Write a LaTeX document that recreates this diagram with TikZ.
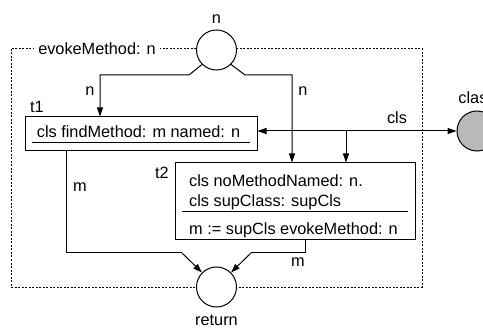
\documentclass[tikz,border=0pt]{standalone}
\usepackage{fontspec}
\setmainfont{Liberation Sans}
\usetikzlibrary{arrows.meta}
\begin{document}
\begin{tikzpicture}[x=1pt,y=-1pt,
  every node/.style={font=\fontsize{16.3}{19}\selectfont, inner sep=0pt},
  place/.style={draw, circle, minimum size=40pt, line width=1pt, fill=white},
  box/.style={draw, rectangle, line width=1pt, fill=white},
  arc/.style={line width=1pt, -{Triangle[length=9pt,width=6pt]}},
  plain/.style={line width=1pt},
  frame/.style={line width=1pt, dash pattern=on 2pt off 1.5pt}]
\useasboundingbox (0,0) rectangle (483,329);
% frame
\draw[frame] (11,49) rectangle (422,287);
\node[fill=white, inner xsep=4pt, inner ysep=2pt] (lbl) at (97,49) {evokeMethod: n};
% places
\node[place] (pin) at (216.5,50) {};
\node (pinl) at (216.5,19) {n};
\node[place] (ret) at (216.5,287) {};
\node (retl) at (216.5,320.5) {return};
\node[place, fill=gray!55] (cls) at (477,131) {};
\node[anchor=base] (clsl) at (477,104) {class};
% transitions
\node[box, minimum width=232pt, minimum height=34pt] (t1) at (141,134) {};
\node (t1txt) at (138.5,132) {cls findMethod: m named: n};
\draw[plain] (32,143) -- (250,143);
\node (t1l) at (37,107) {t1};
\node[box, minimum width=240pt, minimum height=77pt] (t2) at (295,201.5) {};
\node[anchor=base west] (t2a) at (189,186) {cls noMethodNamed: n.};
\node[anchor=base west] (t2b) at (189,207) {cls supClass: supCls};
\draw[plain] (182,212) -- (408,212);
\node[anchor=base west] (t2c) at (189,234) {m := supCls evokeMethod: n};
\node (t2l) at (162,173) {t2};
% coordinates
\coordinate (a1) at (189,75);
\coordinate (a2) at (245,75);
\coordinate (j) at (346,131);
\coordinate (b1) at (66,253);
\coordinate (b2) at (182,253);
\coordinate (c1) at (305,253);
\coordinate (c2) at (251,253);
% arcs
\draw[arc] (pin.-135) -- (a1) -| (t1.north -| 100,0);
\draw[arc] (pin.-45) -- (a2) -| (t2.north -| 292,0);
\draw[arc] (j) -- (cls.west);
\draw[arc] (j) -- ([yshift=3pt]t1.east);
\draw[arc] (j) -- (j |- t2.north);
\draw[plain] (t1.south -| b1) -- (b1) -- (b2);
\draw[arc] (b2) -- (ret.135);
\draw[plain] (t2.south -| c1) -- (c1) -- (c2);
\draw[arc] (c2) -- (ret.45);
% labels
\node (ln1) at (90,91) {n};
\node (ln2) at (303,91) {n};
\node (lcls) at (397,118) {cls};
\node (lm1) at (80,187) {m};
\node (lm2) at (298,262) {m};
\end{tikzpicture}
\end{document}
